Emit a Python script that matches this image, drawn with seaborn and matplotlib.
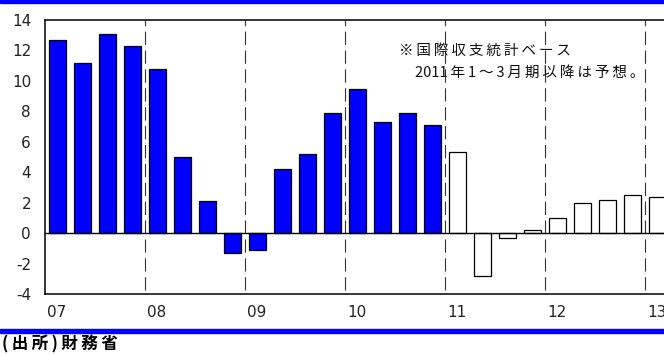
import numpy as np
import pandas as pd
import matplotlib
matplotlib.use("Agg")
import matplotlib.pyplot as plt
import seaborn as sns

# ----------------- Data -----------------
years = ["07", "08", "09", "10", "11", "12", "13"]
quarters = [f"{y}Q{q}" for y in years for q in range(1, 5)][:25]
values = [12.7, 11.2, 13.1, 12.3,
          10.8, 5.0, 2.1, -1.3,
          -1.1, 4.2, 5.2, 7.9,
          9.5, 7.3, 7.9, 7.1,
          5.3, -2.8, -0.3, 0.2,
          1.0, 2.0, 2.2, 2.5,
          2.4]
kinds = ["actual"] * 16 + ["forecast"] * 9
year_ticks = [0, 4, 8, 12, 16, 20, 24]

note_line1 = "※国際収支統計ベース"
note_line2 = "2011年1～3月期以降は予想。"
source = "(出所)財務省"

df = pd.DataFrame({"quarter": quarters, "value": values, "kind": kinds})

# ----------------- Style -----------------
sns.set_style("white")
plt.rcParams["font.family"] = ["DejaVu Sans", "Noto Sans CJK JP"]
plt.rcParams["axes.unicode_minus"] = False
jp = ["Noto Sans CJK JP", "DejaVu Sans"]
BLUE = "#0000FF"
THIN = "\u2009"


def spaced(s):
    # loose letter spacing like the original, digits kept together
    out = ""
    for i, ch in enumerate(s):
        out += ch
        if i < len(s) - 1 and not (ch.isdigit() and s[i + 1].isdigit()):
            out += THIN
    return out


fig = plt.figure(figsize=(6.64, 3.54), dpi=100)
ax = fig.add_axes([45 / 664, 60 / 354, 1 - 45 / 664, 274 / 354])

sns.barplot(data=df, x="quarter", y="value", hue="kind", order=quarters,
            palette={"actual": BLUE, "forecast": "white"}, dodge=False,
            saturation=1, width=0.68, edgecolor="black", linewidth=0.9,
            legend=False, ax=ax)

ax.set_xlim(-0.48, 24.28)
ax.set_ylim(-4, 14)
ax.set_yticks(range(-4, 15, 2))
ax.set_xticks(year_ticks)
ax.set_xticklabels(years)
ax.set_xlabel("")
ax.set_ylabel("")
ax.tick_params(axis="x", length=0, pad=8, labelsize=11, colors="#222222")
ax.tick_params(axis="y", direction="in", length=3, width=0.8, pad=10,
               labelsize=11, colors="#222222")

for side in ["left", "top", "bottom"]:
    ax.spines[side].set_color("black")
    ax.spines[side].set_linewidth(1.1)
ax.spines["right"].set_visible(False)

ax.axhline(0, color="black", lw=1.0, zorder=1)
for x in np.arange(3.5, 24, 4):
    ax.vlines(x, -3.75, 14, colors="#333333", lw=0.8,
              linestyles=(0, (12, 5)), zorder=0)

# blue bands
fig.patches.append(plt.Rectangle((0, 1 - 3 / 354), 1, 3 / 354, color=BLUE,
                                 transform=fig.transFigure, figure=fig))
fig.patches.append(plt.Rectangle((0, 21 / 354), 1, 4.5 / 354, color=BLUE,
                                 transform=fig.transFigure, figure=fig))

fig.text(399 / 664, 1 - 51 / 354, spaced(note_line1), family=jp,
         fontsize=10.5, va="center", ha="left", color="#111111")
fig.text(415 / 664, 1 - 73 / 354, spaced(note_line2), family=jp,
         fontsize=10.5, va="center", ha="left", color="#111111")
fig.text(2 / 664, 9.5 / 354, spaced(source), family=jp, fontsize=12,
         fontweight="bold", va="center", ha="left", color="black")

fig.savefig("out.png", dpi=100)
